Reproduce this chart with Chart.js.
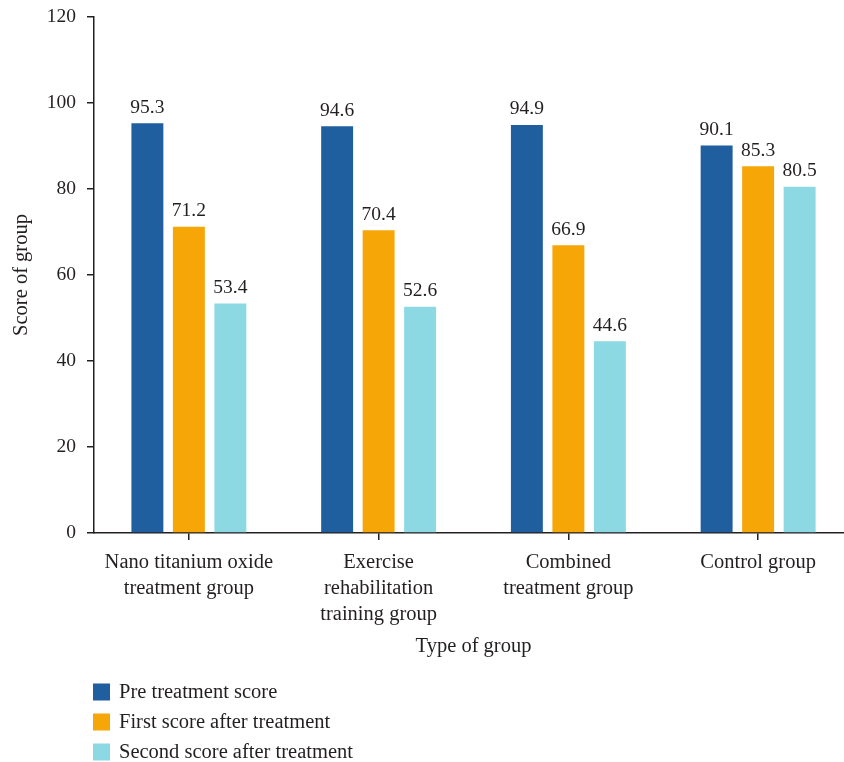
<!DOCTYPE html>
<html>
<head>
<meta charset="utf-8">
<script src="https://cdn.jsdelivr.net/npm/chart.js@4/dist/chart.umd.min.js"></script>
<style>
  html, body { margin: 0; padding: 0; background: #fff; overflow: hidden; }
  #wrap { width: 853px; height: 762px; }
</style>
</head>
<body>
<div id="wrap"><canvas id="scoreChart" width="853" height="762"></canvas></div>
<script>
// categories and series
const groups = [
    ['Nano titanium oxide', 'treatment group'],
    ['Exercise', 'rehabilitation', 'training group'],
    ['Combined', 'treatment group'],
    'Control group'
];
const preScore = [95.3, 94.6, 94.9, 90.1];
const firstScore = [71.2, 70.4, 66.9, 85.3];
const secondScore = [53.4, 52.6, 44.6, 80.5];
const yTicks = [0, 20, 40, 60, 80, 100, 120];

const serif = "'Liberation Serif', 'DejaVu Serif', serif";
const ink = '#231f20';

// value above each bar
const valueLabels = {
    id: 'valueLabels',
    afterDatasetsDraw(chart) {
        const ctx = chart.ctx;
        ctx.save();
        ctx.font = '19.5px ' + serif;
        ctx.fillStyle = ink;
        ctx.textAlign = 'center';
        ctx.textBaseline = 'bottom';
        chart.data.datasets.forEach((ds, i) => {
            chart.getDatasetMeta(i).data.forEach((bar, j) => {
                ctx.fillText(ds.data[j].toFixed(1), bar.x, bar.y - 6);
            });
        });
        ctx.restore();
    }
};

// vertical legend under the axis title
const sideLegend = {
    id: 'sideLegend',
    afterDraw(chart) {
        const ctx = chart.ctx;
        ctx.save();
        ctx.font = '20.5px ' + serif;
        ctx.textBaseline = 'middle';
        chart.data.datasets.forEach((ds, i) => {
            const y = 692 + i * 30;
            ctx.fillStyle = ds.backgroundColor;
            ctx.fillRect(93, y - 8.5, 17, 17);
            ctx.fillStyle = ink;
            ctx.fillText(ds.label, 119, y + 1);
        });
        ctx.restore();
    }
};

const ctx = document.getElementById('scoreChart').getContext('2d');
new Chart(ctx, {
    type: 'bar',
    data: {
        labels: groups,
        datasets: [
            { label: 'Pre treatment score', data: preScore, backgroundColor: '#1f5f9f' },
            { label: 'First score after treatment', data: firstScore, backgroundColor: '#f6a607' },
            { label: 'Second score after treatment', data: secondScore, backgroundColor: '#8cd9e4' }
        ]
    },
    options: {
        responsive: false,
        animation: false,
        layout: { padding: { top: 0, right: 0, bottom: 99, left: 0 } },
        datasets: { bar: { barPercentage: 0.77, categoryPercentage: 0.656 } },
        plugins: { legend: { display: false }, tooltip: { enabled: false } },
        scales: {
            x: {
                grid: { offset: false, drawOnChartArea: false, tickLength: 7, color: ink, lineWidth: 1.5 },
                border: { color: ink, width: 1.5 },
                ticks: { color: ink, font: { family: serif, size: 20.5, lineHeight: 1.27 }, padding: 10, maxRotation: 0, autoSkip: false },
                title: { display: true, text: 'Type of group', color: ink, font: { family: serif, size: 20.5 }, padding: { top: 4, bottom: 4 } },
                afterFit(scale) { scale.height = 130; }
            },
            y: {
                min: 0,
                max: 120,
                afterBuildTicks(scale) { scale.ticks = yTicks.map(v => ({ value: v })); },
                grid: { drawOnChartArea: false, tickLength: 7, color: ink, lineWidth: 1.5 },
                border: { color: ink, width: 1.5 },
                ticks: { color: ink, font: { family: serif, size: 19.5 }, padding: 11 },
                title: { display: true, text: 'Score of group', color: ink, font: { family: serif, size: 20.5 }, padding: { top: 9, bottom: 4 } },
                afterFit(scale) {
                    scale.width = 94;
                    scale.paddingTop = 17;
                    scale.paddingBottom = 0;
                }
            }
        }
    },
    plugins: [valueLabels, sideLegend]
});
</script>
</body>
</html>
